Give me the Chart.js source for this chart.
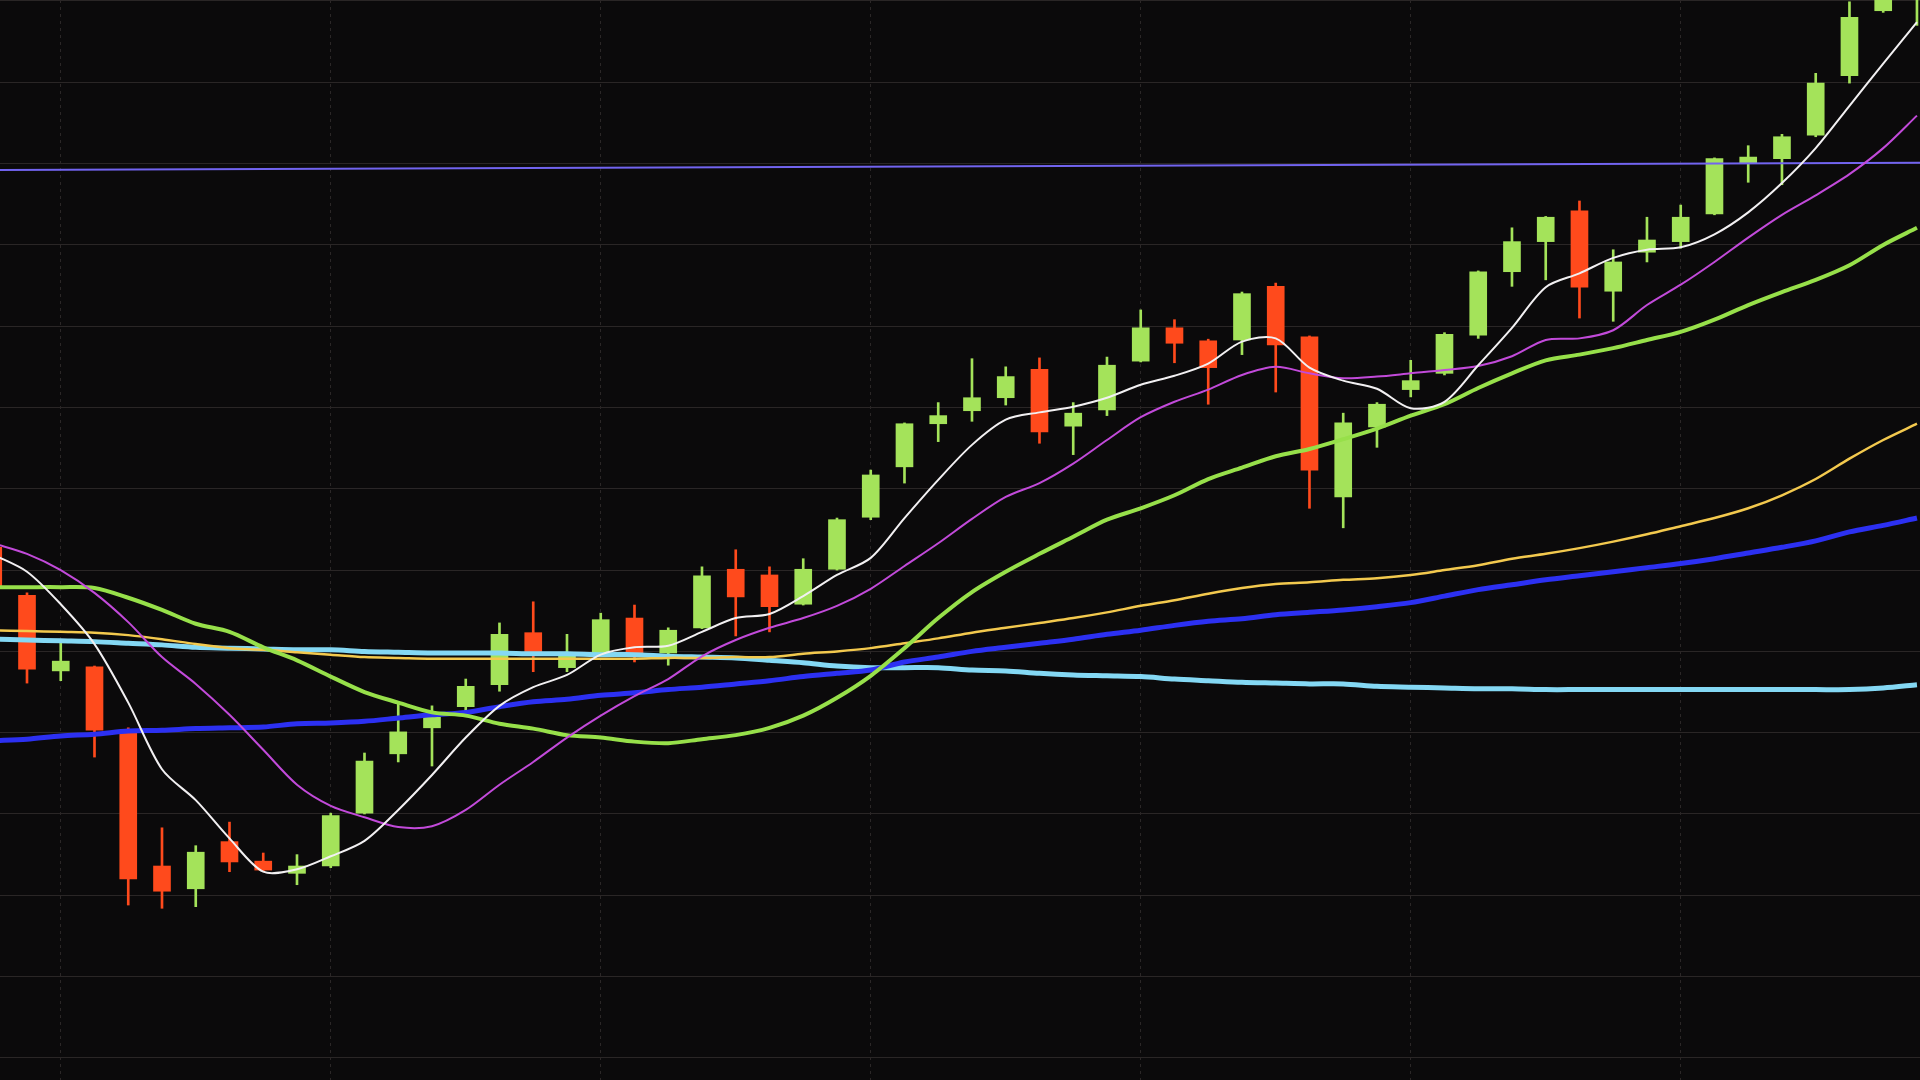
<!DOCTYPE html>
<html>
<head>
<meta charset="utf-8">
<title>Candlestick chart</title>
<script src="https://cdn.jsdelivr.net/npm/chart.js@4.4.1/dist/chart.umd.min.js"></script>
<style>
  html, body { margin: 0; padding: 0; background: #0b0a0b; overflow: hidden; }
  #wrap { width: 1920px; height: 1080px; }
</style>
</head>
<body>
<div id="wrap"><canvas id="chart"></canvas></div>
<script>
// trading days shown on screen
const days = [1, 2, 3, 4, 5, 6, 7, 8, 9, 10, 11, 12, 13, 14, 15, 16, 17, 18, 19, 20,
  21, 22, 23, 24, 25, 26, 27, 28, 29, 30, 31, 32, 33, 34, 35, 36, 37, 38, 39, 40,
  41, 42, 43, 44, 45, 46, 47, 48, 49, 50, 51, 52, 53, 54, 55, 56, 57, 58];

const open = [72.8, 66.9, 57.6, 58.1, 50.0, 33.6, 30.8, 36.6, 34.2, 32.7, 33.6, 40.1, 47.4, 50.6, 53.2,
  55.9, 62.3, 58.0, 59.7, 64.1, 59.8, 62.9, 70.1, 69.4, 65.8, 70.1, 76.5,
  82.7, 88.0, 89.6, 91.2, 94.7, 87.7, 89.7, 95.7, 99.8, 98.2, 98.3, 104.9, 98.7, 79.0,
  87.6, 92.2, 94.2, 98.9, 106.7, 110.4, 114.2, 104.3, 109.1, 110.4,
  113.8, 120.0, 120.6, 123.5, 130.8, 138.8, 140.7];
const high = [73.3, 67.2, 61.2, 58.2, 50.6, 38.3, 36.1, 39.0, 35.2, 35.0, 40.1, 47.5, 53.7, 53.3, 56.6,
  63.5, 66.1, 62.1, 64.7, 65.7, 62.9, 70.4, 72.5, 70.4, 71.4, 76.4, 82.3,
  88.1, 90.6, 96.0, 95.0, 96.1, 90.6, 96.2, 102.0, 100.8, 98.4, 104.2, 105.3, 98.8, 89.3,
  90.6, 95.8, 99.2, 106.8, 112.1, 113.5, 115.4, 109.4, 113.4, 114.9,
  120.7, 122.2, 123.6, 131.1, 139.9, 145.0, 148.7];
const low = [66.8, 56.1, 56.4, 47.0, 28.8, 28.4, 28.6, 32.9, 32.9, 31.3, 33.4, 40.0, 46.4, 45.9, 52.5,
  55.1, 57.5, 57.5, 59.4, 58.7, 58.3, 62.8, 61.9, 62.4, 65.7, 70.0, 76.2,
  80.7, 85.8, 88.3, 90.3, 85.6, 84.2, 89.0, 95.6, 95.5, 90.4, 96.5, 91.9, 77.6, 75.2,
  85.1, 91.3, 94.0, 98.5, 104.9, 105.7, 101.0, 100.6, 107.9, 109.6,
  113.7, 117.7, 117.4, 123.3, 129.9, 138.6, 137.0];
const close = [67.8, 57.8, 58.8, 50.3, 32.0, 30.5, 35.3, 34.1, 33.1, 33.6, 39.8, 46.5, 50.1, 51.9, 55.7,
  62.1, 59.8, 59.6, 63.9, 59.8, 62.6, 69.3, 66.7, 65.5, 70.1, 76.2, 81.7,
  88.0, 89.0, 91.2, 93.8, 87.0, 89.3, 95.2, 99.8, 97.9, 94.9, 104.0, 97.7, 82.3, 88.1,
  90.4, 93.3, 99.0, 106.7, 110.4, 113.4, 104.8, 107.9, 110.6, 113.4,
  120.6, 120.8, 123.3, 129.9, 138.0, 143.8, 146.3];

// moving averages
const ma5 = [71.9, 69.8, 65.8, 60.9, 53.7, 45.5, 41.7, 37.0, 32.9, 33.2, 34.8, 36.7, 40.5, 44.8, 49.4,
  53.3, 55.6, 57.1, 59.6, 60.5, 60.7, 62.4, 64.1, 64.6, 66.8, 69.4, 71.5,
  76.4, 81.1, 85.4, 88.5, 89.4, 90.1, 91.2, 92.8, 93.9, 95.4, 98.1, 98.5, 94.9, 93.3,
  92.3, 89.9, 90.7, 95.2, 99.8, 104.8, 106.5, 108.4, 109.4, 109.7,
  111.3, 114.0, 117.6, 121.9, 127.1, 132.3, 137.4];
const ma10 = [73.3, 72.0, 70.0, 67.2, 63.6, 59.3, 56.0, 52.2, 47.9, 43.6, 41.0, 39.6, 38.4, 38.5, 40.5,
  43.6, 46.4, 49.4, 52.1, 54.5, 56.6, 59.4, 61.4, 62.9, 64.1, 65.6, 67.7,
  70.5, 73.3, 76.3, 79.0, 80.7, 83.1, 86.0, 88.8, 90.7, 92.2, 94.0, 95.0, 94.2, 93.6,
  93.8, 94.2, 94.6, 95.1, 96.3, 98.3, 98.5, 99.5, 102.6, 105.1,
  107.9, 110.9, 113.7, 116.1, 118.7, 121.9, 125.9];
const ma20 = [67.9, 67.9, 67.9, 67.8, 66.6, 65.1, 63.4, 62.4, 60.5, 58.9, 56.9, 55.0, 53.7, 52.5, 52.1,
  51.1, 50.5, 49.7, 49.4, 48.9, 48.7, 49.2, 49.7, 50.6, 52.1, 54.3, 57.0,
  60.4, 64.1, 67.3, 69.8, 72.0, 74.1, 76.2, 77.6, 79.2, 81.2, 82.6, 84.0, 84.9, 86.1,
  87.4, 89.0, 90.4, 92.4, 94.2, 95.8, 96.5, 97.3, 98.3, 99.3,
  100.8, 102.6, 104.2, 105.7, 107.5, 110.0, 112.1];
const ma60 = [62.6, 62.5, 62.4, 62.3, 62.0, 61.5, 60.9, 60.4, 60.2, 59.9, 59.6, 59.3, 59.2, 59.1, 59.1,
  59.1, 59.1, 59.1, 59.1, 59.1, 59.2, 59.2, 59.3, 59.3, 59.7, 60.0, 60.4,
  61.0, 61.6, 62.3, 62.9, 63.5, 64.1, 64.8, 65.6, 66.3, 67.1, 67.8, 68.3, 68.5, 68.8,
  69.0, 69.4, 70.0, 70.6, 71.4, 72.0, 72.7, 73.5, 74.4, 75.4,
  76.4, 77.6, 79.2, 81.2, 83.7, 86.0, 88.0];
const ma120 = [49.0, 49.2, 49.6, 49.8, 50.2, 50.3, 50.5, 50.6, 50.7, 51.1, 51.2, 51.4, 51.8, 52.2, 52.5,
  53.2, 53.8, 54.1, 54.6, 54.9, 55.3, 55.6, 56.0, 56.4, 56.9, 57.3, 57.7,
  58.7, 59.3, 60.0, 60.5, 61.0, 61.5, 62.1, 62.6, 63.2, 63.7, 64.0, 64.5, 64.8, 65.1,
  65.5, 66.0, 66.8, 67.6, 68.2, 68.8, 69.3, 69.8, 70.3, 70.8,
  71.4, 72.1, 72.8, 73.6, 74.7, 75.5, 76.4];
const ma250 = [61.5, 61.4, 61.3, 61.2, 61.0, 60.8, 60.5, 60.4, 60.3, 60.2, 60.2, 60.0, 59.9, 59.8, 59.8,
  59.8, 59.7, 59.7, 59.6, 59.6, 59.4, 59.3, 59.2, 58.9, 58.6, 58.2, 58.0,
  58.0, 58.0, 57.7, 57.6, 57.3, 57.1, 57.0, 56.9, 56.6, 56.4, 56.2, 56.1, 56.0, 56.0,
  55.7, 55.6, 55.5, 55.4, 55.4, 55.3, 55.3, 55.3, 55.3, 55.3,
  55.3, 55.3, 55.3, 55.3, 55.3, 55.5, 55.9];

// horizontal price level (start, end)
const levelLine = [119.2, 120.1];

// grid positions
const priceGrid = [10, 20, 30, 40, 50, 60, 70, 80, 90, 100, 110, 120, 130, 140];
const dayGrid = [3, 11, 19, 27, 35, 43, 51];

const X_MIN = 1.2, X_MAX = 58.09;
const Y_MIN = 7.28, Y_MAX = 140.12;

const UP = '#a4e35a';
const DOWN = '#ff4a1c';

function maLine(values, color, width) {
  return {
    type: 'line',
    data: days.map((d, k) => ({ x: d, y: values[k] })),
    borderColor: color,
    borderWidth: width,
    pointRadius: 0,
    tension: 0.3,
    fill: false
  };
}

const candleColors = days.map((d, k) => close[k] >= open[k] ? UP : DOWN);

new Chart(document.getElementById('chart'), {
  type: 'bar',
  data: {
    datasets: [
      maLine(ma5, '#f2f0f2', 2),
      maLine(ma10, '#c24ada', 2),
      maLine(ma20, '#97e04a', 4),
      maLine(ma60, '#f3c94e', 2.5),
      maLine(ma120, '#2c30f2', 5),
      maLine(ma250, '#84d8f4', 5),
      {
        type: 'line',
        data: [{ x: X_MIN, y: levelLine[0] }, { x: X_MAX, y: levelLine[1] }],
        borderColor: '#7264f0',
        borderWidth: 2,
        pointRadius: 0
      },
      {
        data: days.map((d, k) => ({ x: d, y: [open[k], close[k]] })),
        backgroundColor: candleColors,
        barThickness: 17,
        grouped: false
      },
      {
        data: days.map((d, k) => ({ x: d, y: [low[k], high[k]] })),
        backgroundColor: candleColors,
        barThickness: 2,
        grouped: false
      }
    ]
  },
  options: {
    responsive: true,
    maintainAspectRatio: false,
    animation: false,
    layout: { padding: 0 },
    plugins: {
      legend: { display: false },
      tooltip: { enabled: false }
    },
    scales: {
      x: {
        type: 'linear',
        min: X_MIN,
        max: X_MAX,
        offset: false,
        afterBuildTicks: s => { s.ticks = dayGrid.map(v => ({ value: v })); },
        afterFit: s => { s.height = 0; },
        ticks: { display: false },
        grid: { color: '#2b2727', lineWidth: 1, drawTicks: false, offset: false },
        border: { display: false, dash: [3, 4] }
      },
      y: {
        type: 'linear',
        min: Y_MIN,
        max: Y_MAX,
        afterBuildTicks: s => { s.ticks = priceGrid.map(v => ({ value: v })); },
        afterFit: s => { s.width = 0; },
        ticks: { display: false },
        grid: { color: '#2a2626', lineWidth: 1, drawTicks: false },
        border: { display: false }
      }
    }
  }
});
</script>
</body>
</html>
